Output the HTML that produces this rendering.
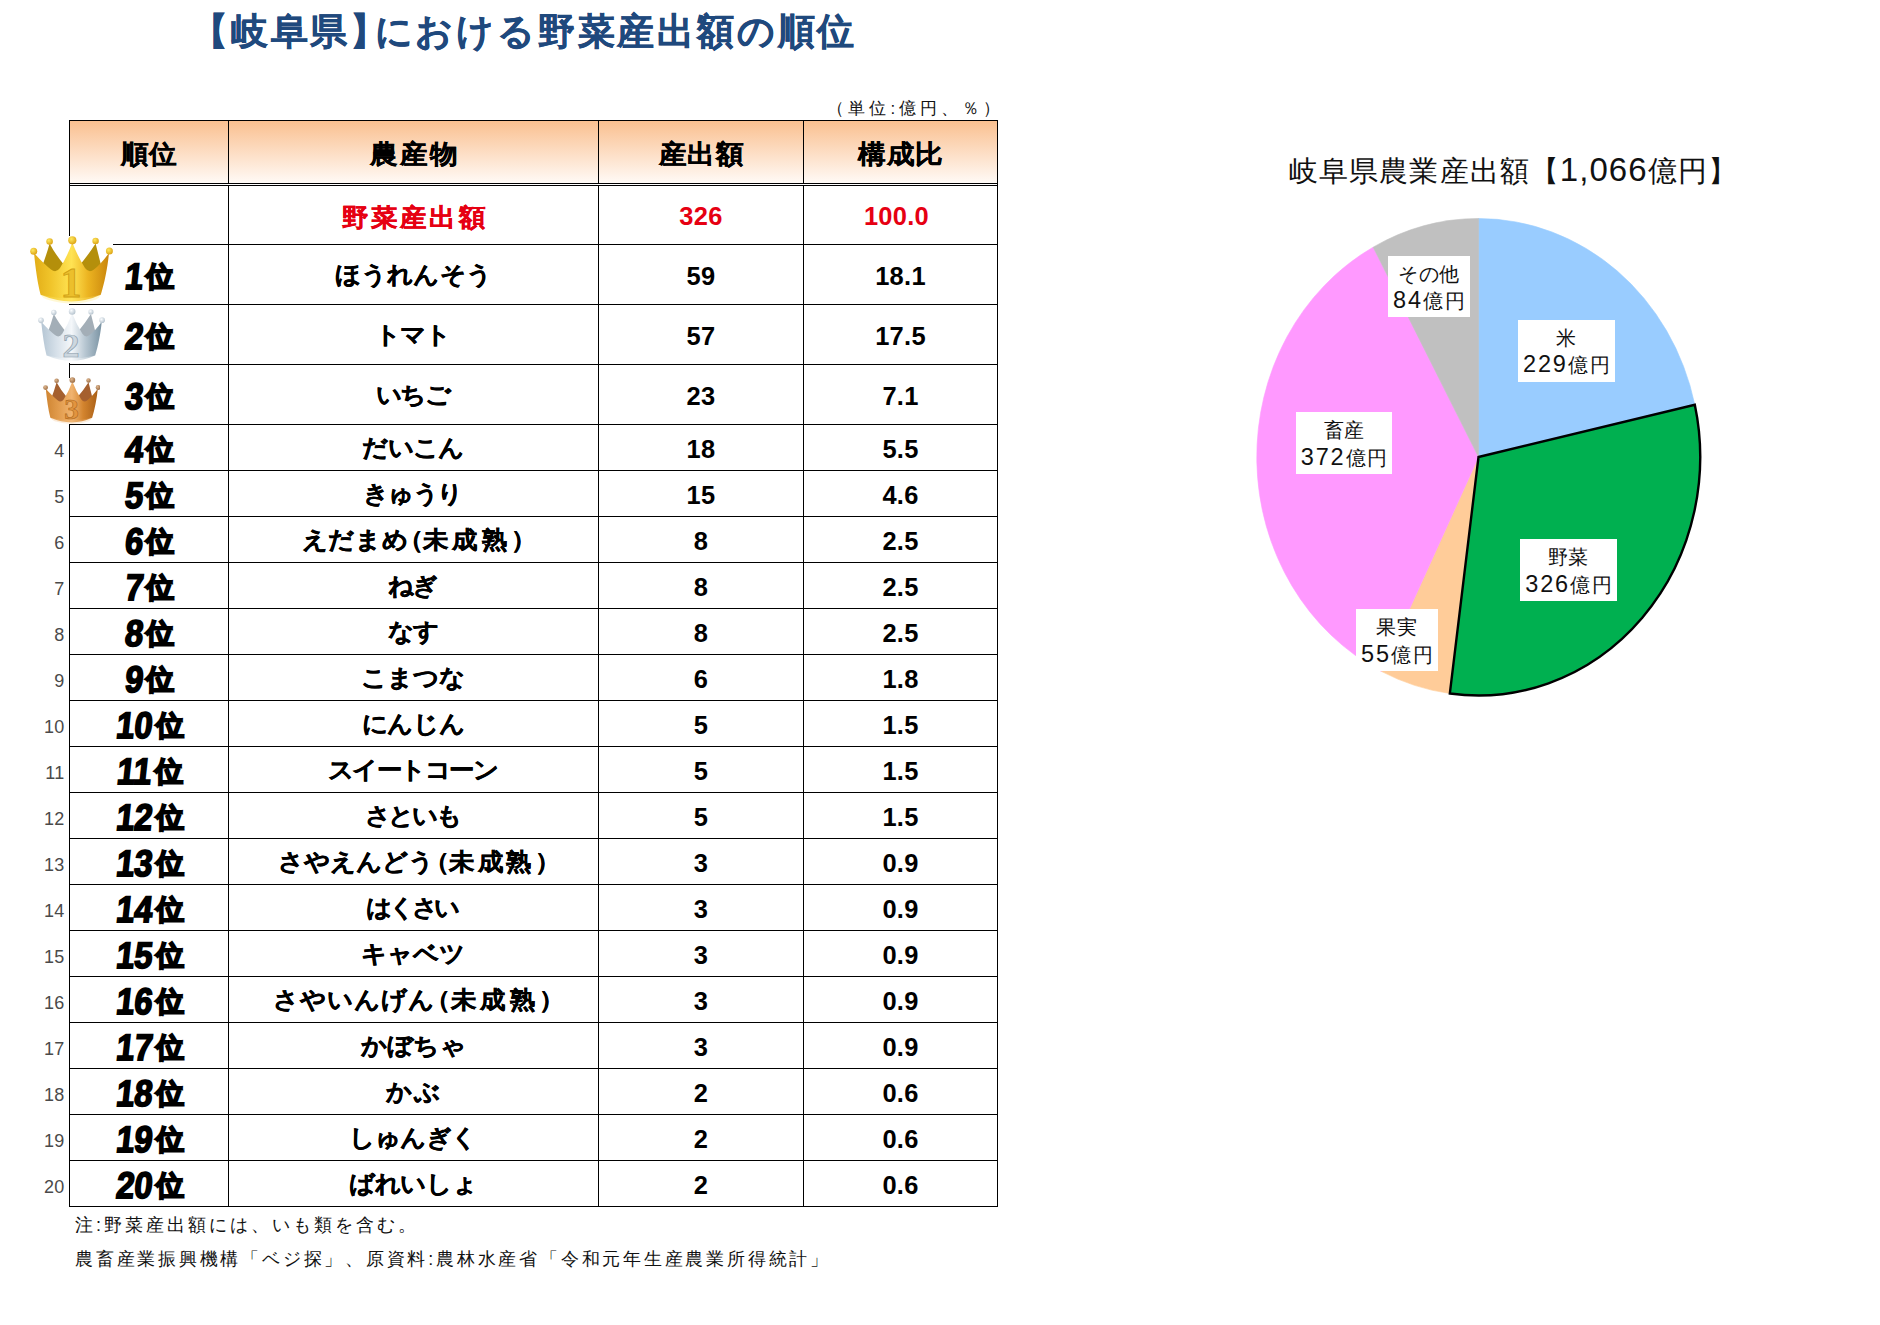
<!DOCTYPE html>
<html lang="ja"><head><meta charset="utf-8"><title>岐阜県における野菜産出額の順位</title>
<style>
html,body{margin:0;padding:0;background:#fff;}
body{width:1880px;height:1325px;position:relative;overflow:hidden;font-family:"Liberation Sans",sans-serif;color:#000;}
div,span{box-sizing:border-box;}
.abs{position:absolute;}
.ln{position:absolute;background:#000;}
.t{position:absolute;white-space:nowrap;text-align:center;line-height:1;}
.title{left:130.5px;top:11px;width:800px;height:42px;font-size:37px;font-weight:bold;color:#1f497d;-webkit-text-stroke:.4px #1f497d;line-height:42px;}
.unit{left:706px;top:100px;width:291px;text-align:right;font-size:17px;line-height:18px;color:#111;}
.hd{position:absolute;top:121px;height:62px;background:linear-gradient(#fac090,#fffaf6);}
.hdt{font-size:26px;font-weight:bold;transform:scaleX(1.06);-webkit-text-stroke:.3px #000;top:141px;height:26px;line-height:26px;}
.pl{margin-left:-.42em;}.pr{margin-right:-.42em;}
.nm{font-size:24px;font-weight:bold;transform:scaleX(1.06);-webkit-text-stroke:.3px currentColor;left:229px;width:369px;height:30px;line-height:30px;}
.v1{font-size:26.5px;transform:scaleX(.96);font-weight:bold;left:599px;width:204px;height:30px;line-height:30px;letter-spacing:.3px;}
.v2{font-size:26.5px;transform:scaleX(.96);font-weight:bold;left:804px;width:193px;height:30px;line-height:30px;letter-spacing:.3px;}
.red{color:#e60012;}
.nm.red{font-size:25px;}
.rk{left:70px;width:158px;height:40px;line-height:40px;font-weight:bold;}
.rk b{font-weight:700;display:inline-block;font-size:37px;transform:scaleX(.88) skewX(-7deg);transform-origin:50% 50%;-webkit-text-stroke:1.8px #000;letter-spacing:0;vertical-align:top;margin:0 1.5px 0 0;}
.rk i{font-weight:700;display:inline-block;font-style:normal;font-size:28px;-webkit-text-stroke:1.9px #000;vertical-align:top;position:relative;top:0px;}
.sn{left:18.5px;width:46px;text-align:right;font-size:18px;color:#4a4a4a;letter-spacing:.3px;height:20px;line-height:20px;}
.fn{left:75px;text-align:left;font-size:18px;color:#111;height:22px;line-height:22px;}
.pt{left:1213px;top:153px;width:600px;font-size:29px;height:36px;line-height:36px;color:#111;}
.lb{position:absolute;background:#fff;text-align:center;font-size:20px;line-height:27.5px;color:#111;white-space:nowrap;padding-top:5px;letter-spacing:.4px;}
.dg{font-size:23.5px;letter-spacing:1.9px;line-height:20px;}
.l2{letter-spacing:1.7px;margin-right:-1.7px;}
</style></head>
<body>
<div class="t title" style="letter-spacing:2.81px;text-indent:2.81px"><span class="pl">【</span>岐阜県<span class="pr">】</span>における野菜産出額の順位</div>
<div class="t unit" style="letter-spacing:4.00px"><span class="pl">（</span>単位:億円、％<span class="pr">）</span></div>
<div class="hd" style="left:70px;width:158px"></div>
<div class="hd" style="left:229px;width:369px"></div>
<div class="hd" style="left:599px;width:204px"></div>
<div class="hd" style="left:804px;width:193px"></div>
<div class="ln" style="left:69px;top:120px;width:929px;height:1px"></div>
<div class="ln" style="left:69px;top:183px;width:929px;height:1px"></div>
<div class="ln" style="left:69px;top:185px;width:929px;height:1px"></div>
<div class="ln" style="left:69px;top:244px;width:929px;height:1px"></div>
<div class="ln" style="left:69px;top:304px;width:929px;height:1px"></div>
<div class="ln" style="left:69px;top:364px;width:929px;height:1px"></div>
<div class="ln" style="left:69px;top:424px;width:929px;height:1px"></div>
<div class="ln" style="left:69px;top:470px;width:929px;height:1px"></div>
<div class="ln" style="left:69px;top:516px;width:929px;height:1px"></div>
<div class="ln" style="left:69px;top:562px;width:929px;height:1px"></div>
<div class="ln" style="left:69px;top:608px;width:929px;height:1px"></div>
<div class="ln" style="left:69px;top:654px;width:929px;height:1px"></div>
<div class="ln" style="left:69px;top:700px;width:929px;height:1px"></div>
<div class="ln" style="left:69px;top:746px;width:929px;height:1px"></div>
<div class="ln" style="left:69px;top:792px;width:929px;height:1px"></div>
<div class="ln" style="left:69px;top:838px;width:929px;height:1px"></div>
<div class="ln" style="left:69px;top:884px;width:929px;height:1px"></div>
<div class="ln" style="left:69px;top:930px;width:929px;height:1px"></div>
<div class="ln" style="left:69px;top:976px;width:929px;height:1px"></div>
<div class="ln" style="left:69px;top:1022px;width:929px;height:1px"></div>
<div class="ln" style="left:69px;top:1068px;width:929px;height:1px"></div>
<div class="ln" style="left:69px;top:1114px;width:929px;height:1px"></div>
<div class="ln" style="left:69px;top:1160px;width:929px;height:1px"></div>
<div class="ln" style="left:69px;top:1206px;width:929px;height:1px"></div>
<div class="ln" style="left:69px;top:120px;width:1px;height:1087px"></div>
<div class="ln" style="left:228px;top:120px;width:1px;height:1087px"></div>
<div class="ln" style="left:598px;top:120px;width:1px;height:1087px"></div>
<div class="ln" style="left:803px;top:120px;width:1px;height:1087px"></div>
<div class="ln" style="left:997px;top:120px;width:1px;height:1087px"></div>
<div class="abs" style="left:70px;top:184px;width:927px;height:1px;background:#fff"></div>
<div class="t hdt" style="left:70px;width:158px;letter-spacing:0.50px;text-indent:0.50px">順位</div>
<div class="t hdt" style="left:229px;width:369px;letter-spacing:2.25px;text-indent:2.25px">農産物</div>
<div class="t hdt" style="left:599px;width:204px;letter-spacing:1.00px;text-indent:1.00px">産出額</div>
<div class="t hdt" style="left:804px;width:193px;letter-spacing:0.75px;text-indent:0.75px">構成比</div>
<div class="t nm red" style="top:202.0px;letter-spacing:2.50px;text-indent:2.50px">野菜産出額</div>
<div class="t v1 red" style="top:201.0px">326</div>
<div class="t v2 red" style="top:201.0px;left:800px">100.0</div>
<div class="t rk" style="top:256.5px"><b>1</b><i>位</i></div><div class="t nm" style="top:259.5px;letter-spacing:-0.20px;text-indent:-0.20px">ほうれんそう</div><div class="t v1" style="top:260.5px">59</div><div class="t v2" style="top:260.5px">18.1</div>
<div class="t rk" style="top:316.5px"><b>2</b><i>位</i></div><div class="t nm" style="top:319.5px;letter-spacing:-1.50px;text-indent:-1.50px">トマト</div><div class="t v1" style="top:320.5px">57</div><div class="t v2" style="top:320.5px">17.5</div>
<div class="t rk" style="top:376.5px"><b>3</b><i>位</i></div><div class="t nm" style="top:379.5px;letter-spacing:-2.00px;text-indent:-2.00px">いちご</div><div class="t v1" style="top:380.5px">23</div><div class="t v2" style="top:380.5px">7.1</div>
<div class="t rk" style="top:429.5px"><b>4</b><i>位</i></div><div class="t nm" style="top:432.5px;letter-spacing:-1.00px;text-indent:-1.00px">だいこん</div><div class="t v1" style="top:433.5px">18</div><div class="t v2" style="top:433.5px">5.5</div><div class="t sn" style="top:440.5px">4</div>
<div class="t rk" style="top:475.5px"><b>5</b><i>位</i></div><div class="t nm" style="top:478.5px;letter-spacing:-1.83px;text-indent:-1.83px">きゅうり</div><div class="t v1" style="top:479.5px">15</div><div class="t v2" style="top:479.5px">4.6</div><div class="t sn" style="top:486.5px">5</div>
<div class="t rk" style="top:521.5px"><b>6</b><i>位</i></div><div class="t nm" style="top:524.5px;letter-spacing:0.19px;text-indent:0.19px">えだまめ<span class="pl">（</span><span style="letter-spacing:3.39px">未成熟</span><span class="pr">）</span></div><div class="t v1" style="top:525.5px">8</div><div class="t v2" style="top:525.5px">2.5</div><div class="t sn" style="top:532.5px">6</div>
<div class="t rk" style="top:567.5px"><b>7</b><i>位</i></div><div class="t nm" style="top:570.5px;letter-spacing:-2.00px;text-indent:-2.00px">ねぎ</div><div class="t v1" style="top:571.5px">8</div><div class="t v2" style="top:571.5px">2.5</div><div class="t sn" style="top:578.5px">7</div>
<div class="t rk" style="top:613.5px"><b>8</b><i>位</i></div><div class="t nm" style="top:616.5px;letter-spacing:-1.00px;text-indent:-1.00px">なす</div><div class="t v1" style="top:617.5px">8</div><div class="t v2" style="top:617.5px">2.5</div><div class="t sn" style="top:624.5px">8</div>
<div class="t rk" style="top:659.5px"><b>9</b><i>位</i></div><div class="t nm" style="top:662.5px;letter-spacing:-0.50px;text-indent:-0.50px">こまつな</div><div class="t v1" style="top:663.5px">6</div><div class="t v2" style="top:663.5px">1.8</div><div class="t sn" style="top:670.5px">9</div>
<div class="t rk" style="top:705.5px"><b>10</b><i>位</i></div><div class="t nm" style="top:708.5px;letter-spacing:-0.67px;text-indent:-0.67px">にんじん</div><div class="t v1" style="top:709.5px">5</div><div class="t v2" style="top:709.5px">1.5</div><div class="t sn" style="top:716.5px">10</div>
<div class="t rk" style="top:751.5px"><b>11</b><i>位</i></div><div class="t nm" style="top:754.5px;letter-spacing:-1.83px;text-indent:-1.83px">スイートコーン</div><div class="t v1" style="top:755.5px">5</div><div class="t v2" style="top:755.5px">1.5</div><div class="t sn" style="top:762.5px">11</div>
<div class="t rk" style="top:797.5px"><b>12</b><i>位</i></div><div class="t nm" style="top:800.5px;letter-spacing:-2.67px;text-indent:-2.67px">さといも</div><div class="t v1" style="top:801.5px">5</div><div class="t v2" style="top:801.5px">1.5</div><div class="t sn" style="top:808.5px">12</div>
<div class="t rk" style="top:843.5px"><b>13</b><i>位</i></div><div class="t nm" style="top:846.5px;letter-spacing:-0.30px;text-indent:-0.30px">さやえんどう<span class="pl">（</span><span style="letter-spacing:2.90px">未成熟</span><span class="pr">）</span></div><div class="t v1" style="top:847.5px">3</div><div class="t v2" style="top:847.5px">0.9</div><div class="t sn" style="top:854.5px">13</div>
<div class="t rk" style="top:889.5px"><b>14</b><i>位</i></div><div class="t nm" style="top:892.5px;letter-spacing:-3.67px;text-indent:-3.67px">はくさい</div><div class="t v1" style="top:893.5px">3</div><div class="t v2" style="top:893.5px">0.9</div><div class="t sn" style="top:900.5px">14</div>
<div class="t rk" style="top:935.5px"><b>15</b><i>位</i></div><div class="t nm" style="top:938.5px;letter-spacing:-0.33px;text-indent:-0.33px">キャベツ</div><div class="t v1" style="top:939.5px">3</div><div class="t v2" style="top:939.5px">0.9</div><div class="t sn" style="top:946.5px">15</div>
<div class="t rk" style="top:981.5px"><b>16</b><i>位</i></div><div class="t nm" style="top:984.5px;letter-spacing:0.50px;text-indent:0.50px">さやいんげん<span class="pl">（</span><span style="letter-spacing:3.70px">未成熟</span><span class="pr">）</span></div><div class="t v1" style="top:985.5px">3</div><div class="t v2" style="top:985.5px">0.9</div><div class="t sn" style="top:992.5px">16</div>
<div class="t rk" style="top:1027.5px"><b>17</b><i>位</i></div><div class="t nm" style="top:1030.5px;letter-spacing:0.00px;text-indent:0.00px">かぼちゃ</div><div class="t v1" style="top:1031.5px">3</div><div class="t v2" style="top:1031.5px">0.9</div><div class="t sn" style="top:1038.5px">17</div>
<div class="t rk" style="top:1073.5px"><b>18</b><i>位</i></div><div class="t nm" style="top:1076.5px;letter-spacing:1.50px;text-indent:1.50px">かぶ</div><div class="t v1" style="top:1077.5px">2</div><div class="t v2" style="top:1077.5px">0.6</div><div class="t sn" style="top:1084.5px">18</div>
<div class="t rk" style="top:1119.5px"><b>19</b><i>位</i></div><div class="t nm" style="top:1122.5px;letter-spacing:-0.87px;text-indent:-0.87px">しゅんぎく</div><div class="t v1" style="top:1123.5px">2</div><div class="t v2" style="top:1123.5px">0.6</div><div class="t sn" style="top:1130.5px">19</div>
<div class="t rk" style="top:1165.5px"><b>20</b><i>位</i></div><div class="t nm" style="top:1168.5px;letter-spacing:-0.75px;text-indent:-0.75px">ばれいしょ</div><div class="t v1" style="top:1169.5px">2</div><div class="t v2" style="top:1169.5px">0.6</div><div class="t sn" style="top:1176.5px">20</div>
<div class="t fn" style="top:1214px;letter-spacing:3.00px">注:野菜産出額には、いも類を含む。</div>
<div class="t fn" style="top:1248px;letter-spacing:2.78px">農畜産業振興機構「ベジ探」、原資料:農林水産省「令和元年生産農業所得統計」</div>
<div class="abs" style="left:28px;top:236px;width:85px;height:68px;background:#fff"></div>
<div class="abs" style="left:36px;top:305px;width:72px;height:58px;background:#fff"></div>
<div class="abs" style="left:40px;top:378px;width:63px;height:46px;background:#fff"></div>
<svg class="abs" style="left:30px;top:235.6px" width="83.0" height="69.0" viewBox="0 0 83 69">
<defs><linearGradient id="fg" x1="0" y1="0" x2="1" y2="0"><stop offset="0" stop-color="#e2ad17"/><stop offset="0.22" stop-color="#f0c42a"/><stop offset="0.5" stop-color="#ffe353"/><stop offset="0.72" stop-color="#ecb421"/><stop offset="1" stop-color="#c9850c"/></linearGradient>
<radialGradient id="bg" cx=".38" cy=".35" r=".7"><stop offset="0" stop-color="#ffe95f"/><stop offset="1" stop-color="#dba011"/></radialGradient></defs>
<path d="M11,33 Q16.5,19 19.6,7.5 Q25,18 35,30 L27,41 Z" fill="#b48f0b"/>
<path d="M72,33 Q68.5,19 65.6,7.5 Q59,18 49,30 L59,41 Z" fill="#b48f0b"/>
<path d="M4,17 Q14,28 21,33.5 Q26,37.5 30,32 Q37.5,20 42.3,6.5 Q47.5,20 55,32 Q59,37.5 64,33.5 Q71,28 79,17 C77.5,32 74.5,47 70.8,58.8 Q42,72 10.6,58.8 C7.5,47 5.5,32 4,17 Z" fill="url(#fg)"/>
<path d="M10.6,58.8 Q42,66 70.8,58.8 Q69,62.5 66,63.6 Q42,71.5 17,63.6 Q13,62.5 10.6,58.8 Z" fill="#ffe872" opacity=".3"/>
<circle cx="3.7" cy="15.3" r="3.5" fill="url(#bg)"/><circle cx="19.6" cy="5.5" r="3.3" fill="url(#bg)"/>
<circle cx="42.3" cy="4.3" r="4.1" fill="url(#bg)"/><circle cx="65.6" cy="4.9" r="3.2" fill="url(#bg)"/>
<circle cx="79.4" cy="15.1" r="3.5" fill="url(#bg)"/>
<text x="41" y="61" text-anchor="middle" font-family="'Liberation Serif',serif" font-weight="bold" font-size="42" fill="#ecbf2c" stroke="#cfa015" stroke-width=".9">1</text>
</svg>

<svg class="abs" style="left:38px;top:307.6px" width="67.0" height="55.7" viewBox="0 0 83 69">
<defs><linearGradient id="fs" x1="0" y1="0" x2="1" y2="0"><stop offset="0" stop-color="#b4c5d3"/><stop offset="0.25" stop-color="#d6e0e9"/><stop offset="0.5" stop-color="#f4f7fa"/><stop offset="0.72" stop-color="#b9c8d3"/><stop offset="1" stop-color="#7a93a3"/></linearGradient>
<radialGradient id="bs" cx=".38" cy=".35" r=".7"><stop offset="0" stop-color="#fbfdff"/><stop offset="1" stop-color="#b3c1cc"/></radialGradient></defs>
<path d="M11,33 Q16.5,19 19.6,7.5 Q25,18 35,30 L27,41 Z" fill="#a3aeb7"/>
<path d="M72,33 Q68.5,19 65.6,7.5 Q59,18 49,30 L59,41 Z" fill="#a3aeb7"/>
<path d="M4,17 Q14,28 21,33.5 Q26,37.5 30,32 Q37.5,20 42.3,6.5 Q47.5,20 55,32 Q59,37.5 64,33.5 Q71,28 79,17 C77.5,32 74.5,47 70.8,58.8 Q42,72 10.6,58.8 C7.5,47 5.5,32 4,17 Z" fill="url(#fs)"/>
<path d="M10.6,58.8 Q42,66 70.8,58.8 Q69,62.5 66,63.6 Q42,71.5 17,63.6 Q13,62.5 10.6,58.8 Z" fill="#ffffff" opacity=".3"/>
<circle cx="3.7" cy="15.3" r="3.5" fill="url(#bs)"/><circle cx="19.6" cy="5.5" r="3.3" fill="url(#bs)"/>
<circle cx="42.3" cy="4.3" r="4.1" fill="url(#bs)"/><circle cx="65.6" cy="4.9" r="3.2" fill="url(#bs)"/>
<circle cx="79.4" cy="15.1" r="3.5" fill="url(#bs)"/>
<text x="41" y="61" text-anchor="middle" font-family="'Liberation Serif',serif" font-weight="bold" font-size="42" fill="#cdd7df" stroke="#8fa1ae" stroke-width=".9">2</text>
</svg>

<svg class="abs" style="left:42.6px;top:377.4px" width="57.6" height="47.9" viewBox="0 0 83 69">
<defs><linearGradient id="fz" x1="0" y1="0" x2="1" y2="0"><stop offset="0" stop-color="#cf8532"/><stop offset="0.25" stop-color="#e29c4d"/><stop offset="0.5" stop-color="#f0b36f"/><stop offset="0.72" stop-color="#d3842e"/><stop offset="1" stop-color="#a95f17"/></linearGradient>
<radialGradient id="bz" cx=".38" cy=".35" r=".7"><stop offset="0" stop-color="#e0b890"/><stop offset="1" stop-color="#97683f"/></radialGradient></defs>
<path d="M11,33 Q16.5,19 19.6,7.5 Q25,18 35,30 L27,41 Z" fill="#a5602f"/>
<path d="M72,33 Q68.5,19 65.6,7.5 Q59,18 49,30 L59,41 Z" fill="#a5602f"/>
<path d="M4,17 Q14,28 21,33.5 Q26,37.5 30,32 Q37.5,20 42.3,6.5 Q47.5,20 55,32 Q59,37.5 64,33.5 Q71,28 79,17 C77.5,32 74.5,47 70.8,58.8 Q42,72 10.6,58.8 C7.5,47 5.5,32 4,17 Z" fill="url(#fz)"/>
<path d="M10.6,58.8 Q42,66 70.8,58.8 Q69,62.5 66,63.6 Q42,71.5 17,63.6 Q13,62.5 10.6,58.8 Z" fill="#f3c088" opacity=".3"/>
<circle cx="3.7" cy="15.3" r="3.5" fill="url(#bz)"/><circle cx="19.6" cy="5.5" r="3.3" fill="url(#bz)"/>
<circle cx="42.3" cy="4.3" r="4.1" fill="url(#bz)"/><circle cx="65.6" cy="4.9" r="3.2" fill="url(#bz)"/>
<circle cx="79.4" cy="15.1" r="3.5" fill="url(#bz)"/>
<text x="41" y="61" text-anchor="middle" font-family="'Liberation Serif',serif" font-weight="bold" font-size="42" fill="#e2943f" stroke="#ad681d" stroke-width=".9">3</text>
</svg>

<svg class="abs" style="left:0;top:0" width="1880" height="1325" viewBox="0 0 1880 1325">
<path d="M1478.5,457 L1478.50,218.50 A221.7,238.5 0 0 1 1694.81,404.71 Z" fill="#99ccff" stroke="#99ccff" stroke-width="0.6"/>
<path d="M1478.5,457 L1694.81,404.71 A221.7,238.5 0 0 1 1449.83,693.50 Z" fill="#00b050" stroke="#00b050" stroke-width="0.6"/>
<path d="M1478.5,457 L1449.83,693.50 A221.7,238.5 0 0 1 1381.30,671.36 Z" fill="#ffcc99" stroke="#ffcc99" stroke-width="0.6"/>
<path d="M1478.5,457 L1381.30,671.36 A221.7,238.5 0 0 1 1373.16,247.14 Z" fill="#ff99ff" stroke="#ff99ff" stroke-width="0.6"/>
<path d="M1478.5,457 L1373.16,247.14 A221.7,238.5 0 0 1 1478.50,218.50 Z" fill="#c0c0c0" stroke="#c0c0c0" stroke-width="0.6"/>
<path d="M1478.5,457 L1694.81,404.71 A221.7,238.5 0 0 1 1449.83,693.50 Z" fill="none" stroke="#000" stroke-width="2.4" stroke-linejoin="miter"/>
</svg>
<div class="t pt" style="letter-spacing:1.06px;text-indent:1.06px">岐阜県農業産出額【<span style="font-size:33px;line-height:30px">1,066</span>億円】</div>
<div class="lb" style="left:1388px;top:255.5px;width:81.5px;height:61.5px">その他<br><span class="l2"><span class="dg">84</span>億円</span></div>
<div class="lb" style="left:1518px;top:319.5px;width:96.5px;height:62px">米<br><span class="l2"><span class="dg">229</span>億円</span></div>
<div class="lb" style="left:1296px;top:412px;width:96px;height:62px">畜産<br><span class="l2"><span class="dg">372</span>億円</span></div>
<div class="lb" style="left:1520px;top:539.3px;width:97px;height:61.5px">野菜<br><span class="l2"><span class="dg">326</span>億円</span></div>
<div class="lb" style="left:1356px;top:609px;width:81.6px;height:62px">果実<br><span class="l2"><span class="dg">55</span>億円</span></div>
</body></html>
